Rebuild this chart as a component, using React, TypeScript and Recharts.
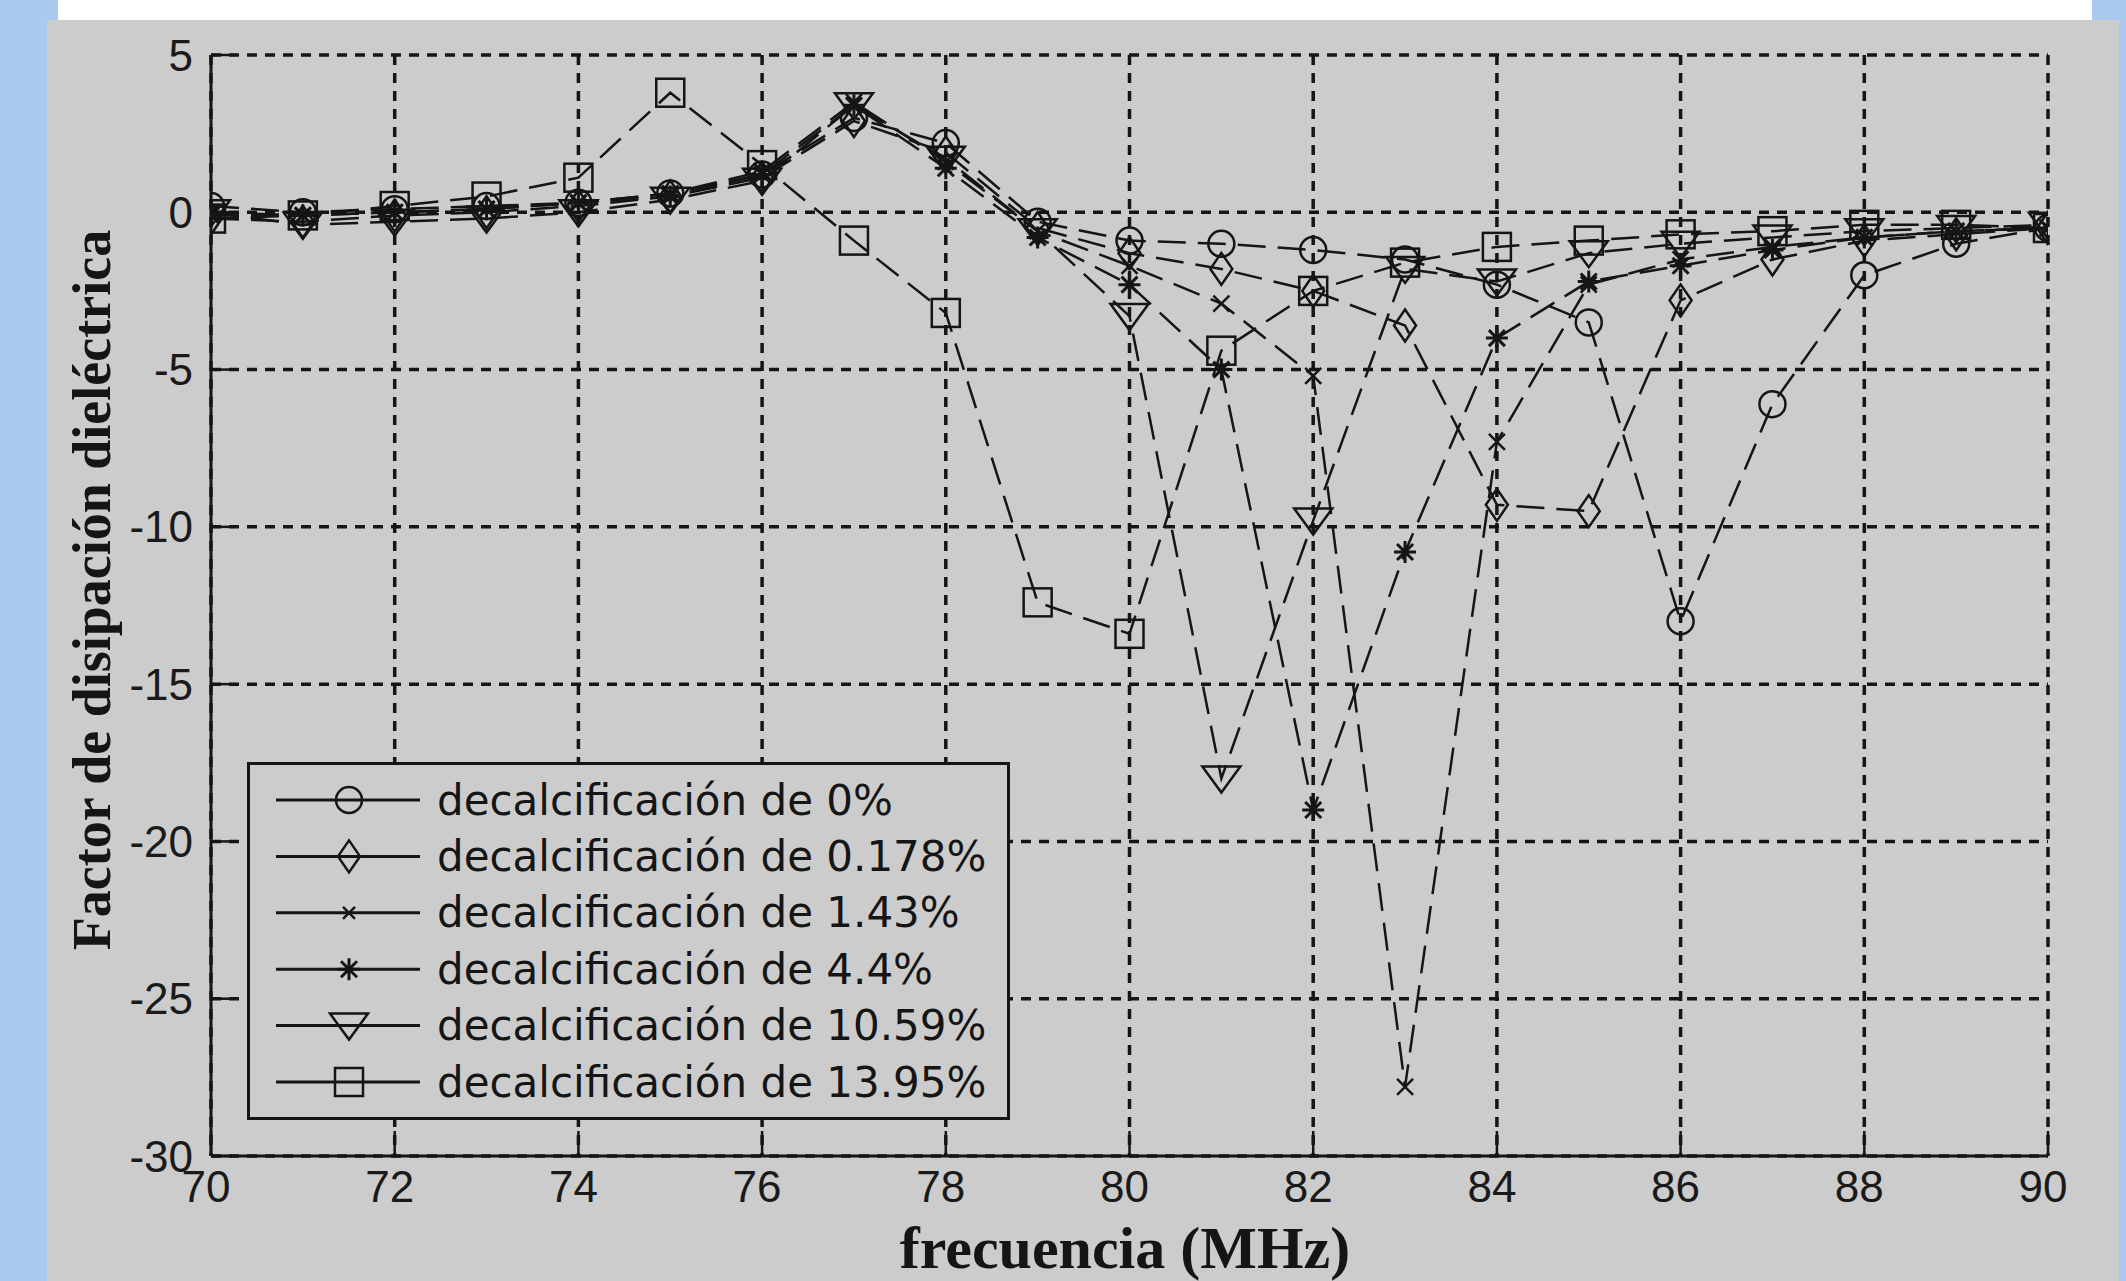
import React from 'react';
import { LineChart, Line, XAxis, YAxis, CartesianGrid } from 'recharts';

const frequencies = [70, 71, 72, 73, 74, 75, 76, 77, 78, 79, 80, 81, 82, 83, 84, 85, 86, 87, 88, 89, 90];

const decal0 = [0.2, 0.0, 0.1, 0.2, 0.3, 0.6, 1.2, 3.0, 2.2, -0.3, -0.9, -1.0, -1.2, -1.5, -2.3, -3.5, -13.0, -6.1, -2.0, -1.0, -0.5];
const decal0178 = [-0.2, -0.3, -0.1, 0.0, 0.2, 0.5, 1.1, 2.9, 1.9, -0.5, -1.3, -1.8, -2.5, -3.6, -9.3, -9.5, -2.8, -1.5, -0.9, -0.7, -0.5];
const decal143 = [0.0, -0.1, 0.0, 0.1, 0.3, 0.6, 1.3, 3.5, 1.6, -0.6, -1.7, -2.9, -5.2, -27.8, -7.3, -2.3, -1.5, -1.1, -0.8, -0.6, -0.5];
const decal44 = [-0.1, -0.1, 0.0, 0.1, 0.3, 0.5, 1.2, 3.4, 1.4, -0.8, -2.3, -5.0, -19.0, -10.8, -4.0, -2.2, -1.7, -1.2, -0.8, -0.6, -0.5];
const decal1059 = [0.0, -0.4, -0.3, -0.2, 0.0, 0.4, 1.0, 3.4, 1.7, -0.6, -3.3, -18.0, -9.8, -1.8, -2.2, -1.3, -1.0, -0.8, -0.6, -0.5, -0.4];
const decal1395 = [-0.2, -0.1, 0.2, 0.5, 1.1, 3.8, 1.5, -0.9, -3.2, -12.4, -13.4, -4.4, -2.5, -1.6, -1.1, -0.9, -0.7, -0.6, -0.4, -0.4, -0.5];

const seriesKeys = ['s0', 's1', 's2', 's3', 's4', 's5'];
const seriesValues = [decal0, decal0178, decal143, decal44, decal1059, decal1395];
const seriesLabels = [
  'decalcificación de 0%',
  'decalcificación de 0.178%',
  'decalcificación de 1.43%',
  'decalcificación de 4.4%',
  'decalcificación de 10.59%',
  'decalcificación de 13.95%',
];
const seriesMarkers = ['circle', 'diamond', 'cross', 'star', 'triangle', 'square'];

const xTicks = [70, 72, 74, 76, 78, 80, 82, 84, 86, 88, 90];
const yTicks = [5, 0, -5, -10, -15, -20, -25, -30];

const data = frequencies.map((f, i) => {
  const row: Record<string, number> = { f };
  seriesKeys.forEach((k, j) => {
    row[k] = seriesValues[j][i];
  });
  return row;
});

const INK = '#151515';
const PANEL = '#cccccc';

function Marker({ shape, cx, cy, small }: { shape: string; cx: number; cy: number; small?: boolean }) {
  const common = { stroke: INK, strokeWidth: 2.5, fill: 'none' };
  switch (shape) {
    case 'circle':
      return <circle cx={cx} cy={cy} r={13} {...common} />;
    case 'diamond':
      return (
        <polygon
          points={`${cx},${cy - 16} ${cx + 11},${cy} ${cx},${cy + 16} ${cx - 11},${cy}`}
          {...common}
        />
      );
    case 'cross': {
      const s = small ? 6 : 8;
      return (
        <path d={`M${cx - s},${cy - s}L${cx + s},${cy + s}M${cx - s},${cy + s}L${cx + s},${cy - s}`} {...common} />
      );
    }
    case 'star': {
      const s = 11;
      const d = 8;
      return (
        <path
          d={`M${cx - s},${cy}L${cx + s},${cy}M${cx},${cy - s}L${cx},${cy + s}M${cx - d},${cy - d}L${cx + d},${cy + d}M${cx - d},${cy + d}L${cx + d},${cy - d}`}
          {...common}
          strokeWidth={3}
        />
      );
    }
    case 'triangle':
      return (
        <polygon points={`${cx - 19},${cy - 12} ${cx + 19},${cy - 12} ${cx},${cy + 14}`} {...common} />
      );
    case 'square':
    default:
      return <rect x={cx - 14} y={cy - 14} width={28} height={28} {...common} />;
  }
}

function makeDot(shape: string, key: string) {
  return (p: any) => {
    if (p.cx == null || p.cy == null) return <g key={`${key}-${p.index}`} />;
    return (
      <g key={`${key}-${p.index}`}>
        <Marker shape={shape} cx={p.cx} cy={p.cy} />
      </g>
    );
  };
}

function LegendBox() {
  const rowY = (i: number) => 38 + i * 56.4;
  return (
    <div
      style={{
        position: 'absolute',
        left: 247,
        top: 762,
        width: 763,
        height: 358,
        boxSizing: 'border-box',
        border: `3px solid ${INK}`,
        background: PANEL,
      }}
    >
      <svg width={757} height={352} style={{ position: 'absolute', left: 0, top: 0 }}>
        {seriesLabels.map((label, i) => (
          <g key={label}>
            <line x1={26} x2={170} y1={rowY(i) - 3} y2={rowY(i) - 3} stroke={INK} strokeWidth={3} />
            <Marker shape={seriesMarkers[i]} cx={99} cy={rowY(i) - 3} small />
            <text
              x={187}
              y={rowY(i) - 3}
              dominantBaseline="central"
              fontFamily="DejaVu Sans"
              fontSize={42}
              fill={INK}
            >
              {label}
            </text>
          </g>
        ))}
      </svg>
    </div>
  );
}

export default function App() {
  const axisLine = { stroke: INK, strokeWidth: 3 };
  const tickLine = { stroke: INK, strokeWidth: 2.5 };
  const tickFont = { fill: '#1a1a1a', fontSize: 44, fontFamily: 'Liberation Sans' };
  return (
    <div
      style={{
        position: 'absolute',
        left: 0,
        top: 0,
        width: 2126,
        height: 1281,
        background: '#a9c9ee',
        overflow: 'hidden',
      }}
    >
      <div style={{ position: 'absolute', left: 58, top: 0, width: 2034, height: 20, background: '#ffffff' }} />
      <div style={{ position: 'absolute', left: 47, top: 20, width: 2072, height: 1261, background: PANEL }} />
      <div style={{ position: 'absolute', left: 0, top: 0 }}>
        <LineChart width={2126} height={1281} data={data} margin={{ top: 55, right: 78, bottom: 65, left: 0 }}>
          <CartesianGrid stroke={INK} strokeWidth={3.5} strokeDasharray="10 8" fill="none" />
          <XAxis
            dataKey="f"
            type="number"
            domain={[70, 90]}
            ticks={xTicks}
            interval={0}
            height={60}
            tickSize={-25}
            tickMargin={40}
            axisLine={axisLine}
            tickLine={tickLine}
            tick={{ ...tickFont, dx: -5 }}
            allowDataOverflow
          />
          <XAxis
            xAxisId="top"
            orientation="top"
            dataKey="f"
            type="number"
            domain={[70, 90]}
            ticks={xTicks}
            interval={0}
            height={0}
            tickSize={-25}
            axisLine={axisLine}
            tickLine={tickLine}
            tick={false}
            allowDataOverflow
          />
          <YAxis
            type="number"
            domain={[-30, 5]}
            ticks={yTicks}
            interval={0}
            width={211}
            tickSize={-25}
            tickMargin={43}
            axisLine={axisLine}
            tickLine={tickLine}
            tick={tickFont}
            allowDataOverflow
          />
          <YAxis
            yAxisId="right"
            orientation="right"
            type="number"
            domain={[-30, 5]}
            ticks={yTicks}
            interval={0}
            width={0}
            tickSize={-25}
            axisLine={axisLine}
            tickLine={tickLine}
            tick={false}
            allowDataOverflow
          />
          {seriesKeys.map((k, i) => (
            <Line
              key={k}
              dataKey={k}
              name={seriesLabels[i]}
              stroke={INK}
              strokeWidth={2.5}
              strokeDasharray="28 12"
              dot={makeDot(seriesMarkers[i], k)}
              activeDot={false}
              isAnimationActive={false}
              type="linear"
            />
          ))}
        </LineChart>
      </div>
      <LegendBox />
      <div
        style={{
          position: 'absolute',
          left: 725,
          top: 1210,
          width: 800,
          height: 76,
          lineHeight: '76px',
          textAlign: 'center',
          fontFamily: 'Liberation Serif',
          fontWeight: 'bold',
          fontSize: 60,
          color: INK,
        }}
      >
        frecuencia (MHz)
      </div>
      <div
        style={{
          position: 'absolute',
          left: 92 - 450,
          top: 590 - 36,
          width: 900,
          height: 72,
          lineHeight: '72px',
          textAlign: 'center',
          transform: 'rotate(-90deg)',
          transformOrigin: '50% 50%',
          fontFamily: 'Liberation Serif',
          fontWeight: 'bold',
          fontSize: 54,
          color: INK,
          whiteSpace: 'nowrap',
        }}
      >
        Factor de disipación dieléctrica
      </div>
    </div>
  );
}
